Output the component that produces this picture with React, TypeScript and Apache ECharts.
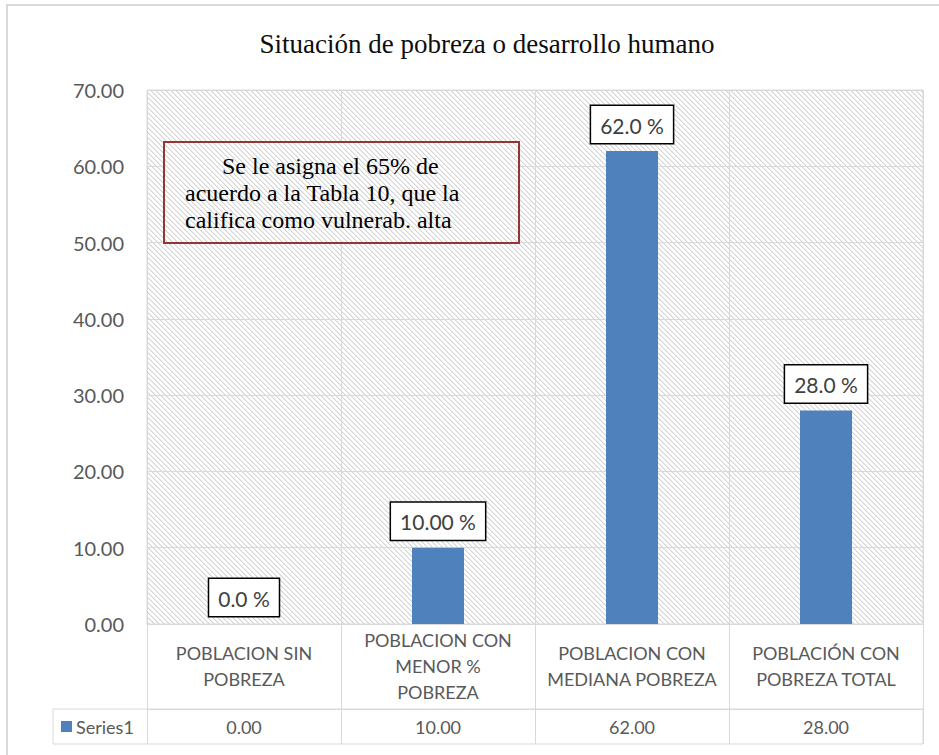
import React, { useEffect, useRef } from "react";
import * as echarts from "echarts";

const categories = [
  "POBLACION SIN POBREZA",
  "POBLACION CON MENOR % POBREZA",
  "POBLACION CON MEDIANA POBREZA",
  "POBLACIÓN CON POBREZA TOTAL",
];
const categoryLines = [
  "POBLACION SIN\nPOBREZA",
  "POBLACION CON\nMENOR %\nPOBREZA",
  "POBLACION CON\nMEDIANA POBREZA",
  "POBLACIÓN CON\nPOBREZA TOTAL",
];
const values = [0, 10, 62, 28];
const dataLabels = ["0.0 %", "10.00 %", "62.0 %", "28.0 %"];
const seriesName = "Series1";
const titleText = "Situación de pobreza o desarrollo humano";
const noteLines = [
  "Se le asigna el 65% de",
  "acuerdo a la Tabla 10, que la",
  "califica como vulnerab. alta",
];

const GRID = "#D9D9D9";
const TXT = "#595959";
const SANS = "Lato";
const SERIF = "'Liberation Serif'";
const BAR = "#4F81BD";

function makeHatch(): HTMLCanvasElement {
  const n = 5;
  const c = document.createElement("canvas");
  c.width = n;
  c.height = n;
  const ctx = c.getContext("2d")!;
  ctx.fillStyle = "#ffffff";
  ctx.fillRect(0, 0, n, n);
  for (let i = 0; i < n; i++) {
    ctx.fillStyle = "#d4d4d4";
    ctx.fillRect(i, i, 1, 1);
    ctx.fillStyle = "#ebebeb";
    ctx.fillRect((i + 1) % n, i, 1, 1);
  }
  return c;
}

export default function App() {
  const ref = useRef<HTMLDivElement>(null);
  useEffect(() => {
    if (!ref.current) return;
    const chart = echarts.init(ref.current, undefined, { renderer: "svg" });
    const hatchCanvas = makeHatch();
    const hatch: any = {
      image: hatchCanvas.toDataURL(),
      repeat: "repeat",
      imageWidth: 5,
      imageHeight: 5,
    };
    const noteText = (i: number, x: number, y: number) => ({
      type: "text",
      silent: true,
      z: 11,
      x,
      y,
      style: {
        text: noteLines[i],
        font: `24px ${SERIF}`,
        fill: "#000000",
        align: "left",
        verticalAlign: "middle",
      },
    });
    const option: any = {
      animation: false,
      backgroundColor: "#ffffff",
      title: {
        text: titleText,
        left: 482,
        top: 25,
        textAlign: "center",
        textStyle: {
          fontFamily: SERIF,
          fontSize: 27,
          fontWeight: "normal",
          color: "#0d0d0d",
        },
      },
      grid: {
        left: 147,
        right: 16,
        top: 90,
        bottom: 131,
        show: true,
        backgroundColor: hatch,
        borderColor: GRID,
        borderWidth: 1,
      },
      xAxis: [
        {
          type: "category",
          data: categories,
          position: "bottom",
          axisLine: { show: true, lineStyle: { color: GRID, width: 1 } },
          axisTick: {
            show: true,
            interval: 0,
            length: 85,
            lineStyle: { color: GRID, width: 1 },
          },
          splitLine: { show: true, interval: 0, lineStyle: { color: GRID, width: 1 } },
          axisLabel: {
            interval: 0,
            margin: 42,
            verticalAlign: "middle",
            fontFamily: SANS,
            fontSize: 18,
            lineHeight: 26,
            color: TXT,
            formatter: (_v: string, i: number) => categoryLines[i],
          },
        },
        {
          type: "category",
          data: categories,
          position: "bottom",
          offset: 85,
          axisLine: { show: true, lineStyle: { color: GRID, width: 1 } },
          axisTick: {
            show: true,
            interval: 0,
            length: 35,
            lineStyle: { color: GRID, width: 1 },
          },
          splitLine: { show: false },
          axisLabel: {
            interval: 0,
            margin: 18,
            verticalAlign: "middle",
            fontFamily: SANS,
            fontSize: 18,
            color: TXT,
            formatter: (_v: string, i: number) => values[i].toFixed(2),
          },
        },
      ],
      yAxis: {
        type: "value",
        min: 0,
        max: 70,
        interval: 10,
        axisLine: { show: false },
        axisTick: { show: false },
        splitLine: { show: true, lineStyle: { color: GRID, width: 1 } },
        axisLabel: {
          margin: 23,
          fontFamily: SANS,
          fontSize: 20,
          color: TXT,
          formatter: (v: number) => v.toFixed(2),
        },
      },
      series: [
        {
          name: seriesName,
          type: "bar",
          xAxisIndex: 0,
          data: values,
          barWidth: 52,
          itemStyle: { color: BAR },
          label: {
            show: true,
            position: "top",
            distance: 8,
            formatter: (p: any) => dataLabels[p.dataIndex],
            fontFamily: SANS,
            fontSize: 21,
            lineHeight: 22,
            color: "#404040",
            backgroundColor: "#ffffff",
            borderColor: "#000000",
            borderWidth: 1.5,
            padding: [8, 9, 7, 9],
          },
        },
      ],
      graphic: [
        {
          type: "rect",
          silent: true,
          shape: { x: 7, y: 5, width: 1000, height: 1000 },
          style: { fill: "none", stroke: GRID, lineWidth: 2 },
          z: -1,
        },
        {
          type: "rect",
          silent: true,
          shape: { x: 53, y: 709, width: 870, height: 35 },
          style: { fill: "none", stroke: GRID, lineWidth: 1 },
        },
        {
          type: "rect",
          silent: true,
          shape: { x: 61, y: 721, width: 11, height: 11 },
          style: { fill: BAR },
        },
        {
          type: "text",
          silent: true,
          x: 76,
          y: 727,
          style: {
            text: seriesName,
            font: `18px ${SANS}`,
            fill: TXT,
            align: "left",
            verticalAlign: "middle",
          },
        },
        {
          type: "rect",
          silent: true,
          z: 10,
          shape: { x: 164, y: 142, width: 355, height: 101 },
          style: { fill: hatch, stroke: "#963634", lineWidth: 2 },
        },
        noteText(0, 222, 166),
        noteText(1, 185, 193),
        noteText(2, 185, 220),
      ],
    };
    chart.setOption(option);
    return () => chart.dispose();
  }, []);
  return (
    <div
      ref={ref}
      style={{ position: "fixed", left: 0, top: 0, width: 939, height: 755 }}
    />
  );
}
